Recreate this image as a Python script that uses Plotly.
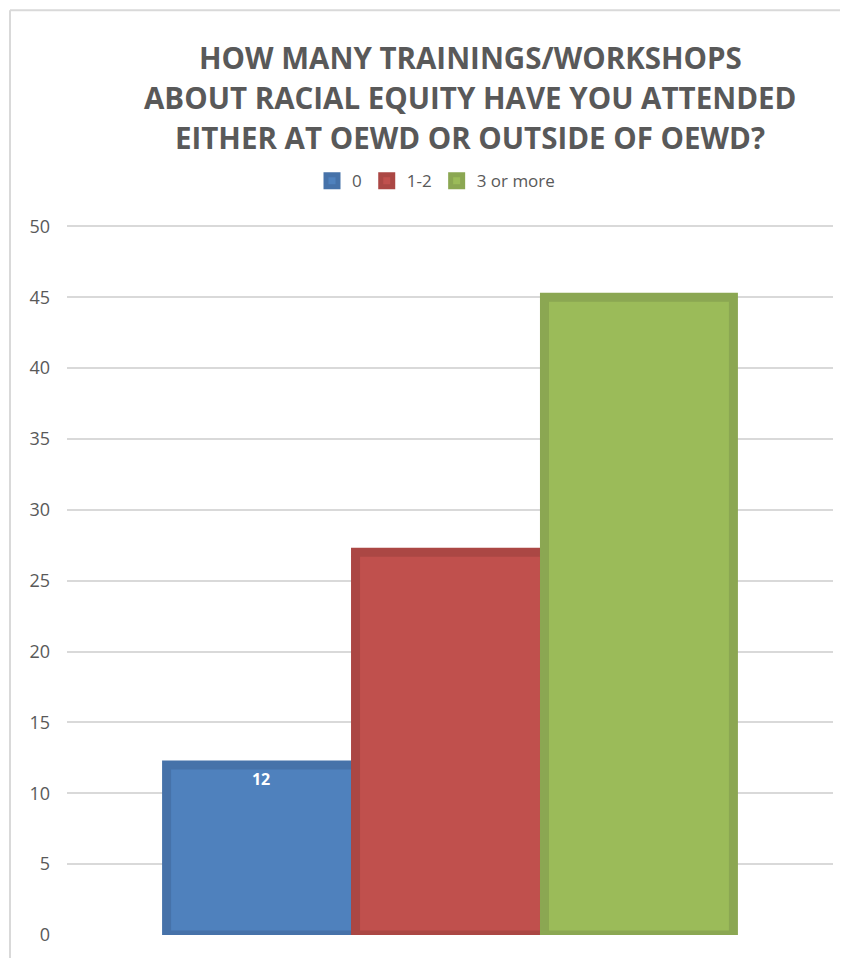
import plotly.graph_objects as go

# -----------------------------------------------------------------------------
# Data
# -----------------------------------------------------------------------------
CATEGORY = ["Trainings"]
SERIES_NAMES = ["0", "1-2", "3 or more"]
SERIES_VALUES = [12, 27, 45]
SERIES_LABELS = ["12", "", ""]  # only the first bar carries a data label

FILL_COLORS = ["#4F81BD", "#C0504D", "#9BBB59"]
EDGE_COLORS = ["#4672A9", "#AB4744", "#8BA752"]

TITLE_LINES = [
    "HOW MANY TRAININGS/WORKSHOPS",
    "ABOUT RACIAL EQUITY HAVE YOU ATTENDED",
    "EITHER AT OEWD OR OUTSIDE OF OEWD?",
]

TEXT_GRAY = "#595959"
GRID_GRAY = "#D9D9D9"

# -----------------------------------------------------------------------------
# Geometry (the page body adds an 8px margin, so the figure is 8px smaller)
# -----------------------------------------------------------------------------
FIG_W, FIG_H = 840, 950
M_L, M_R, M_T, M_B = 59, 15, 217, 19
PLOT_W = FIG_W - M_L - M_R
PLOT_H = FIG_H - M_T - M_B


def px_to_paper_x(px):
    return (px - M_L) / PLOT_W


def px_to_paper_y(py):
    return 1 + (M_T - py) / PLOT_H


fig = go.Figure()

for name, val, lab, fill, edge in zip(SERIES_NAMES, SERIES_VALUES, SERIES_LABELS, FILL_COLORS, EDGE_COLORS):
    fig.add_trace(
        go.Bar(
            x=CATEGORY,
            y=[val],
            name=name,
            text=[lab],
            textposition="inside",
            insidetextanchor="end",
            textfont=dict(family="Open Sans", size=16, color="white", weight="bold"),
            marker=dict(color=fill, line=dict(color=edge, width=9)),
            hoverinfo="name+y",
        )
    )

# title, one annotation per line to get Excel-like line spacing
title_centers_y = [48.5, 89, 129]
for line, cy in zip(TITLE_LINES, title_centers_y):
    fig.add_annotation(
        text=line,
        xref="paper", yref="paper",
        x=px_to_paper_x(462), y=px_to_paper_y(cy),
        xanchor="center", yanchor="middle",
        showarrow=False,
        font=dict(family="Open Sans", size=29.5, color=TEXT_GRAY, weight="bold"),
    )

fig.update_layout(
    width=FIG_W,
    height=FIG_H,
    paper_bgcolor="white",
    plot_bgcolor="white",
    barmode="group",
    bargap=0.26,
    bargroupgap=0,
    margin=dict(l=M_L, r=M_R, t=M_T, b=M_B),
    font=dict(family="Open Sans", color=TEXT_GRAY, size=16),
    legend=dict(
        orientation="h",
        x=px_to_paper_x(428),
        xanchor="center",
        y=px_to_paper_y(173),
        yanchor="middle",
        font=dict(family="Open Sans", size=17, color=TEXT_GRAY),
        itemwidth=30,
        traceorder="normal",
    ),
    showlegend=True,
)

fig.update_xaxes(showticklabels=False, showgrid=False, zeroline=False, showline=False)
fig.update_yaxes(
    range=[0, 50.1],
    dtick=5,
    showgrid=True,
    gridcolor=GRID_GRAY,
    gridwidth=2,
    zeroline=False,
    showline=False,
    ticks="",
    ticklabelstandoff=16,
    tickfont=dict(family="Open Sans", size=18, color=TEXT_GRAY),
)

# chart-area border (left and top edges, as in the cropped original)
fig.add_shape(type="line", xref="paper", yref="paper",
              x0=px_to_paper_x(2), x1=px_to_paper_x(2), y0=-0.1, y1=px_to_paper_y(1),
              line=dict(color=GRID_GRAY, width=2))
fig.add_shape(type="line", xref="paper", yref="paper",
              x0=px_to_paper_x(2), x1=1.1, y0=px_to_paper_y(1), y1=px_to_paper_y(1),
              line=dict(color=GRID_GRAY, width=2))

fig.write_html("out.html")
